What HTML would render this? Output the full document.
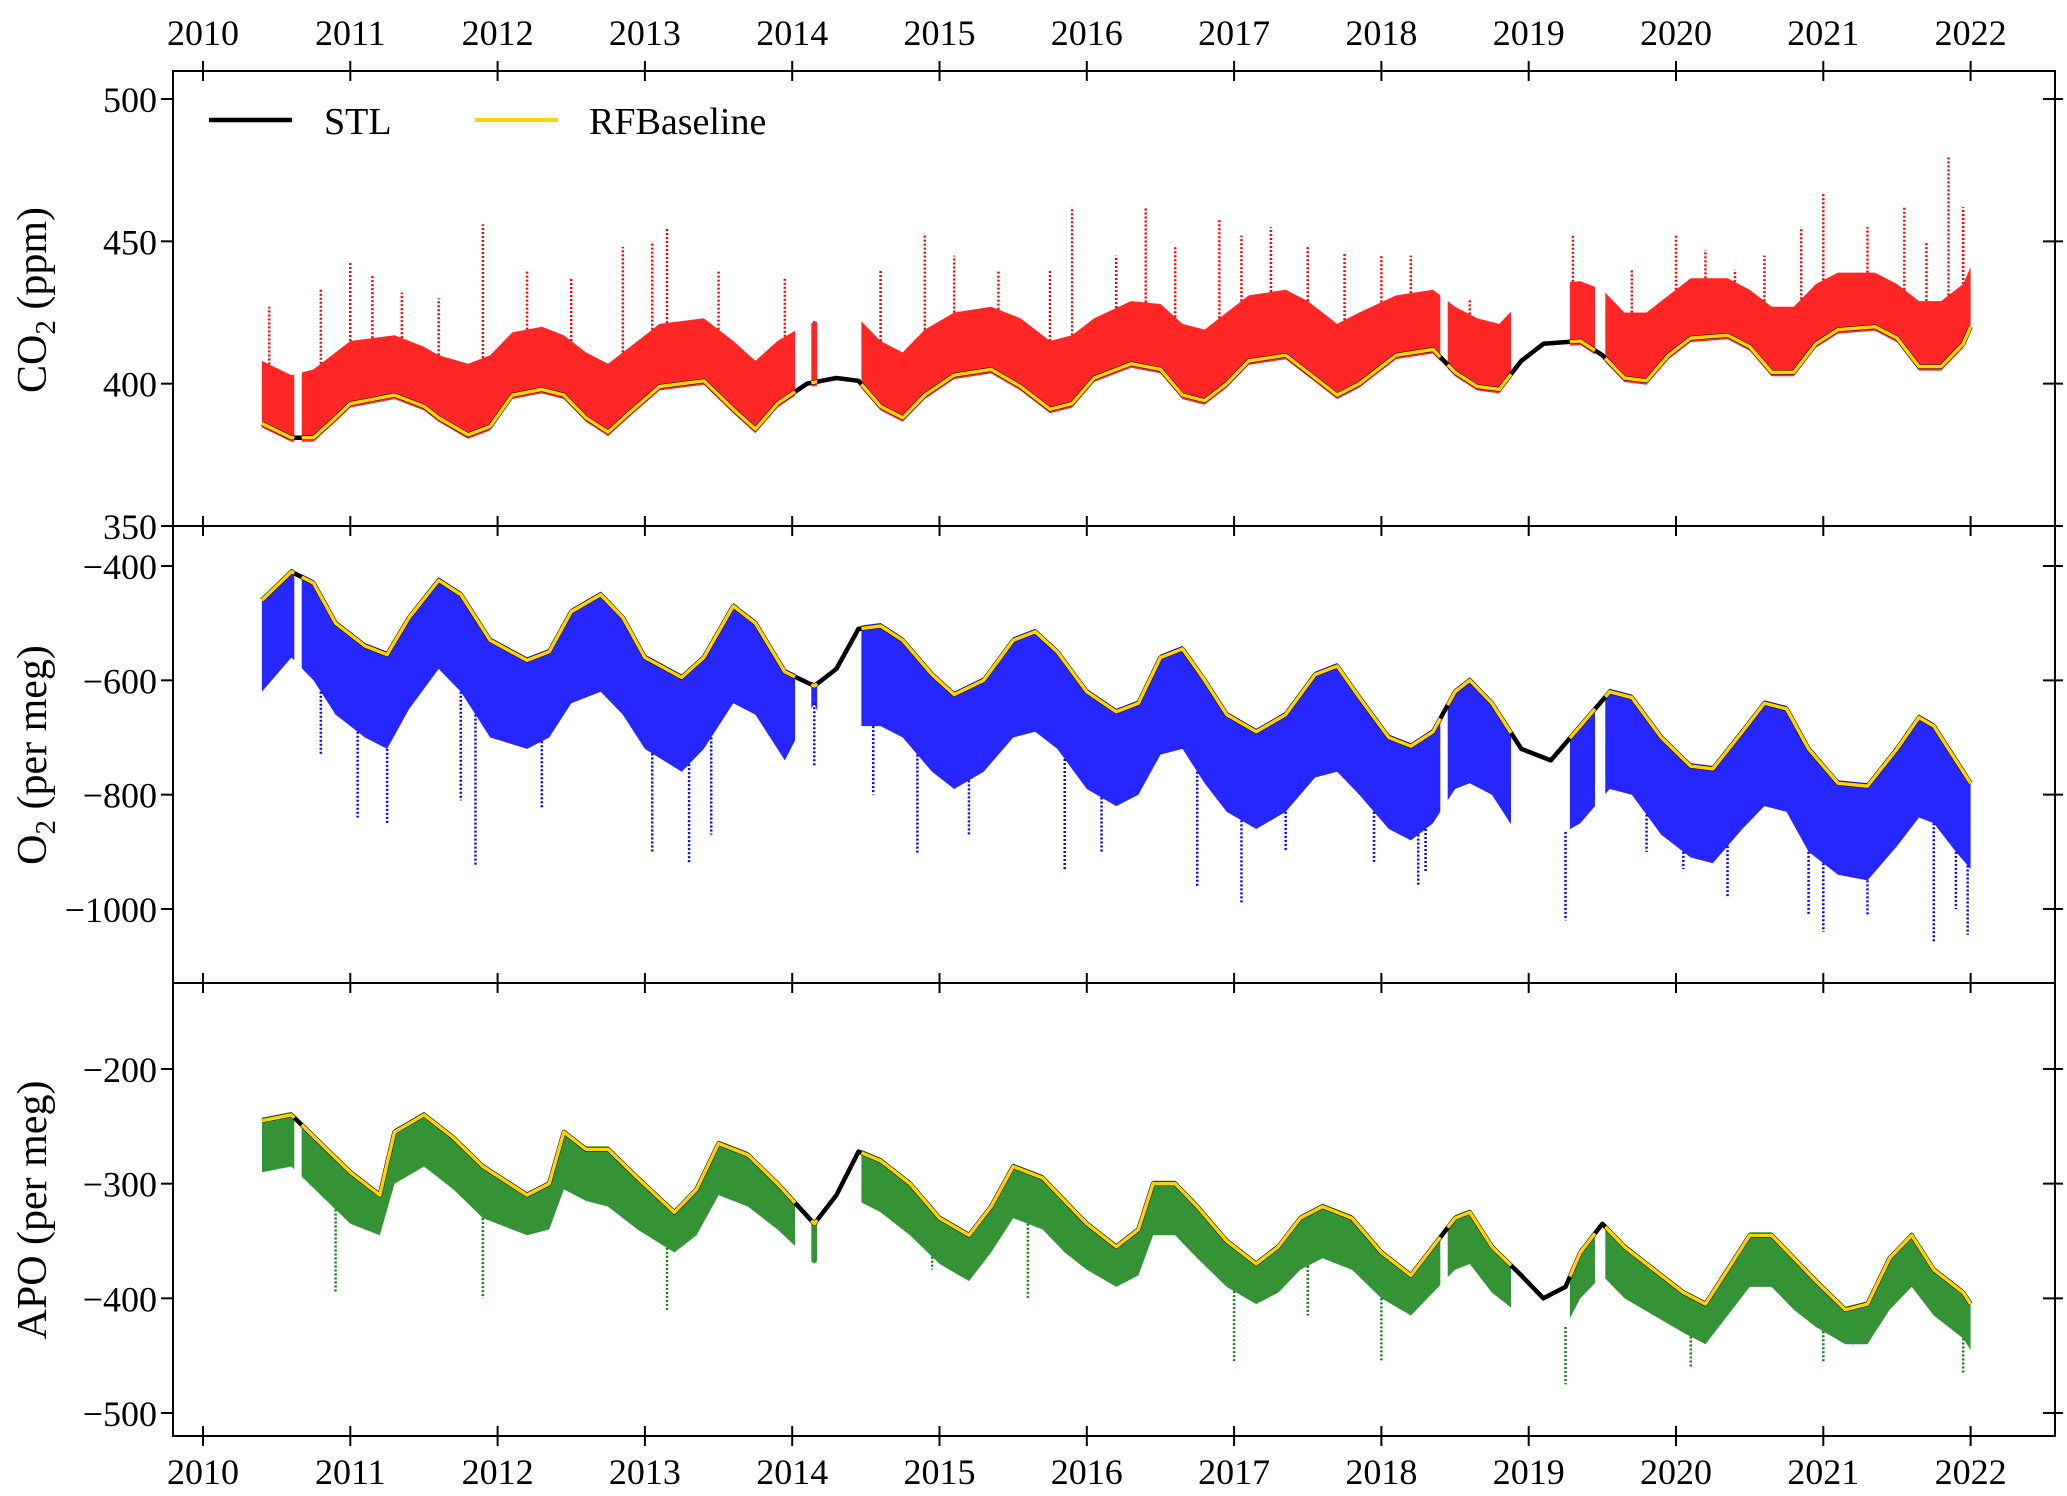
<!DOCTYPE html>
<html><head><meta charset="utf-8"><style>
html,body{margin:0;padding:0;background:#fff}
svg text{font-family:"Liberation Serif",serif;fill:#000}
</style></head><body>
<svg id="chart" width="2067" height="1491" viewBox="0 0 2067 1491" xmlns="http://www.w3.org/2000/svg"></svg>
<script>
// ---- data ----
const yearTicks = [2010,2011,2012,2013,2014,2015,2016,2017,2018,2019,2020,2021,2022];
const co2Ticks = [350,400,450,500];
const o2Ticks = [-1000,-800,-600,-400];
const apoTicks = [-500,-400,-300,-200];
const dataSegments = [[2010.4,2010.62],[2010.67,2014.02],[2014.13,2014.17],[2014.47,2018.4],[2018.45,2018.88],[2019.28,2019.45],[2019.52,2022.0]];

const co2T = [2010.4,2010.6,2010.75,2010.9,2011.0,2011.3,2011.5,2011.6,2011.8,2011.95,2012.1,2012.3,2012.45,2012.6,2012.75,2012.9,2013.1,2013.4,2013.6,2013.75,2013.9,2014.1,2014.3,2014.45,2014.6,2014.75,2014.9,2015.1,2015.35,2015.55,2015.75,2015.9,2016.05,2016.3,2016.5,2016.65,2016.8,2016.95,2017.1,2017.35,2017.5,2017.7,2017.85,2018.1,2018.35,2018.5,2018.65,2018.8,2018.95,2019.1,2019.35,2019.5,2019.65,2019.8,2019.95,2020.1,2020.35,2020.5,2020.65,2020.8,2020.95,2021.1,2021.35,2021.5,2021.65,2021.8,2021.95,2022.0];
const co2Base = [386,381,381,388,393,396,392,388,382,385,396,398,396,388,383,390,399,401,391,384,393,400,402,401,392,388,396,403,405,399,391,393,402,407,405,396,394,400,408,410,404,396,400,410,412,404,399,398,408,414,415,410,402,401,410,416,417,413,404,404,414,419,420,416,406,406,414,420];
const co2Hi = [408,403,405,411,415,417,413,410,407,410,418,420,417,411,407,413,421,423,415,408,415,421,423,423,415,411,419,425,427,423,415,417,423,429,428,421,419,425,431,433,429,421,425,431,433,427,423,421,429,435,436,433,425,425,431,437,437,433,427,427,435,439,439,435,429,429,435,441];
const co2SpikeT = [2010.45,2010.8,2011.0,2011.15,2011.35,2011.6,2011.9,2012.2,2012.5,2012.85,2013.05,2013.15,2013.5,2013.95,2014.15,2014.6,2014.9,2015.1,2015.4,2015.75,2015.9,2016.2,2016.4,2016.6,2016.9,2017.05,2017.25,2017.5,2017.75,2018.0,2018.2,2018.6,2019.3,2019.7,2020.0,2020.2,2020.4,2020.6,2020.85,2021.0,2021.3,2021.55,2021.7,2021.85,2021.95];
const co2SpikeV = [427,433,443,438,432,430,456,440,437,448,450,455,440,437,422,440,452,445,440,440,462,445,462,448,458,452,455,448,446,445,445,430,452,440,452,447,440,445,455,467,455,462,450,480,462];

const o2T = [2010.4,2010.6,2010.75,2010.9,2011.1,2011.25,2011.4,2011.6,2011.75,2011.95,2012.2,2012.35,2012.5,2012.7,2012.85,2013.0,2013.25,2013.4,2013.6,2013.75,2013.95,2014.15,2014.3,2014.45,2014.6,2014.75,2014.95,2015.1,2015.3,2015.5,2015.65,2015.8,2016.0,2016.2,2016.35,2016.5,2016.65,2016.8,2016.95,2017.15,2017.35,2017.55,2017.7,2017.85,2018.05,2018.2,2018.35,2018.5,2018.6,2018.75,2018.95,2019.15,2019.35,2019.55,2019.7,2019.9,2020.1,2020.25,2020.45,2020.6,2020.75,2020.9,2021.1,2021.3,2021.5,2021.65,2021.75,2021.9,2022.0];
const o2Base = [-460,-410,-430,-500,-540,-555,-490,-425,-450,-530,-565,-550,-480,-450,-490,-560,-595,-560,-470,-500,-585,-610,-580,-510,-505,-530,-590,-625,-600,-530,-515,-550,-620,-655,-640,-560,-545,-600,-660,-690,-660,-590,-575,-630,-700,-715,-690,-620,-600,-640,-720,-740,-680,-620,-630,-700,-750,-755,-690,-640,-650,-720,-780,-785,-720,-665,-680,-740,-780];
const o2Lo = [-620,-560,-600,-660,-700,-720,-650,-580,-620,-700,-720,-700,-640,-620,-660,-720,-760,-720,-640,-660,-740,-640,-740,-680,-680,-700,-760,-790,-760,-700,-690,-720,-790,-820,-800,-730,-720,-780,-830,-860,-830,-770,-760,-800,-860,-880,-850,-790,-780,-800,-880,-880,-850,-790,-800,-870,-910,-920,-860,-820,-830,-900,-940,-950,-890,-840,-850,-900,-930];
const o2SpikeT = [2010.8,2011.05,2011.25,2011.75,2011.85,2012.3,2013.05,2013.3,2013.45,2014.15,2014.55,2014.85,2015.2,2015.85,2016.1,2016.75,2017.05,2017.35,2017.95,2018.25,2018.3,2019.25,2019.8,2020.05,2020.35,2020.9,2021.0,2021.3,2021.75,2021.9,2021.98];
const o2SpikeV = [-730,-840,-850,-810,-925,-825,-900,-920,-870,-750,-800,-905,-870,-930,-900,-960,-990,-900,-920,-960,-935,-1020,-900,-930,-980,-1010,-1040,-1010,-1060,-1000,-1045];

const apoT = [2010.4,2010.6,2010.8,2011.0,2011.2,2011.3,2011.5,2011.7,2011.9,2012.2,2012.35,2012.45,2012.6,2012.75,2012.95,2013.2,2013.35,2013.5,2013.7,2013.9,2014.15,2014.3,2014.45,2014.6,2014.8,2015.0,2015.2,2015.35,2015.5,2015.7,2015.85,2016.0,2016.2,2016.35,2016.45,2016.6,2016.75,2016.95,2017.15,2017.3,2017.45,2017.6,2017.8,2018.0,2018.2,2018.35,2018.5,2018.6,2018.75,2018.95,2019.1,2019.25,2019.35,2019.5,2019.65,2019.85,2020.05,2020.2,2020.35,2020.5,2020.65,2020.8,2020.95,2021.15,2021.3,2021.45,2021.6,2021.75,2021.95,2022.0];
const apoBase = [-245,-240,-265,-290,-310,-255,-240,-260,-285,-310,-300,-255,-270,-270,-295,-325,-305,-265,-275,-300,-335,-310,-272,-280,-300,-330,-345,-320,-285,-295,-315,-335,-355,-340,-300,-300,-320,-350,-370,-355,-330,-320,-330,-360,-380,-355,-330,-325,-355,-380,-400,-390,-360,-335,-355,-375,-395,-405,-375,-345,-345,-365,-385,-410,-405,-365,-345,-375,-395,-405];
const apoLo = [-290,-285,-310,-335,-345,-300,-285,-305,-330,-345,-340,-305,-315,-320,-340,-360,-345,-310,-320,-340,-370,-350,-315,-325,-345,-370,-385,-360,-330,-340,-360,-375,-390,-380,-345,-345,-365,-390,-405,-395,-375,-365,-375,-400,-415,-395,-375,-370,-395,-415,-430,-425,-400,-380,-400,-415,-430,-440,-415,-390,-390,-410,-425,-440,-440,-410,-390,-415,-435,-445];
const apoSpikeT = [2010.9,2011.9,2013.15,2014.95,2015.6,2017.0,2017.5,2018.0,2019.25,2020.1,2021.0,2021.2,2021.95];
const apoSpikeV = [-395,-400,-410,-375,-400,-455,-415,-455,-475,-460,-455,-440,-465];

// ---- layout ----
const NS = "http://www.w3.org/2000/svg";
const svg = document.getElementById('chart');
const L = 173, R = 2055;
const xs = t => 203 + (t - 2010) * 147.3;
const panels = [
  {top:71, bot:526, v0:350, p0:526, v1:500, p1:99, ticks:co2Ticks, name:'co2'},
  {top:526, bot:983, v0:-1000, p0:909, v1:-400, p1:566, ticks:o2Ticks, name:'o2'},
  {top:983, bot:1436, v0:-500, p0:1413, v1:-200, p1:1069, ticks:apoTicks, name:'apo'}
];
panels.forEach(p => { p.y = v => p.p0 + (v - p.v0) * (p.p1 - p.p0) / (p.v1 - p.v0); });

function el(tag, attrs, parent) {
  const e = document.createElementNS(NS, tag);
  for (const k in attrs) e.setAttribute(k, attrs[k]);
  (parent || svg).appendChild(e);
  return e;
}
function interp(T, V, t) {
  if (t <= T[0]) return V[0];
  for (let i = 1; i < T.length; i++) if (t <= T[i]) { const f = (t - T[i-1]) / (T[i] - T[i-1]); return V[i-1] + f * (V[i] - V[i-1]); }
  return V[V.length - 1];
}
function segPts(T, V, a, b) {
  const ts = [a]; T.forEach(t => { if (t > a && t < b) ts.push(t); }); ts.push(b);
  return ts.map(t => [t, interp(T, V, t)]);
}
function band(p, T, lo, hi, loOff, hiOff, color, nm) {
  const g = el('g', {});
  
  
  dataSegments.forEach(([a, b]) => {
    if (a < T[0]) a = T[0];
    const up = segPts(T, hi, a, b).map(([t, v]) => xs(t).toFixed(1) + ',' + (p.y(v) + hiOff).toFixed(1));
    const dn = segPts(T, lo, a, b).reverse().map(([t, v]) => xs(t).toFixed(1) + ',' + (p.y(v) + loOff).toFixed(1));
    const poly = el('polygon', {points: up.concat(dn).join(' '), fill: color, 'fill-opacity': '0.85'}, g);
    
    
  });
  return g;
}
function spikes(p, T, base, st, sv, color, nm, hiArr) {
  st.forEach((t, i) => {
    const from = interp(T, hiArr, t);
    const ln = el('line', {x1: xs(t), x2: xs(t), y1: p.y(from), y2: p.y(sv[i]), stroke: color, 'stroke-width': 2.5, 'stroke-dasharray': '2 2'});
    
    
  });
}
function line(p, T, V, color, w, nm, segs) {
  const ranges = segs || [[T[0], T[T.length-1]]];
  ranges.forEach(([a, b]) => {
    if (a < T[0]) a = T[0];
    const pts = segPts(T, V, a, b).map(([t, v]) => xs(t).toFixed(1) + ',' + p.y(v).toFixed(1)).join(' ');
    const pl = el('polyline', {points: pts, fill: 'none', stroke: color, 'stroke-width': w, 'stroke-linejoin': 'round'});
    
    
  });
}

// ---- series ----
const P1 = panels[0], P2 = panels[1], P3 = panels[2];
band(P1, co2T, co2Base, co2Hi, 4, 0, '#ff0000', 'co2-scatter');
spikes(P1, co2T, co2Base, co2SpikeT, co2SpikeV, '#ff0000', 'co2', co2Hi);
line(P1, co2T, co2Base, '#000', 4.5, 'co2-stl-line');
line(P1, co2T, co2Base, '#ffd200', 3.5, 'co2-rfbaseline-line', dataSegments);

band(P2, o2T, o2Lo, o2Base, 0, -3, '#0000ff', 'o2-scatter');
spikes(P2, o2T, o2Base, o2SpikeT, o2SpikeV, '#0000ff', 'o2', o2Lo);
line(P2, o2T, o2Base, '#000', 4.5, 'o2-stl-line');
line(P2, o2T, o2Base, '#ffd200', 3.5, 'o2-rfbaseline-line', dataSegments);

band(P3, apoT, apoLo, apoBase, 0, -3, '#118011', 'apo-scatter');
spikes(P3, apoT, apoBase, apoSpikeT, apoSpikeV, '#118011', 'apo', apoLo);
line(P3, apoT, apoBase, '#000', 4.5, 'apo-stl-line');
line(P3, apoT, apoBase, '#ffd200', 3.5, 'apo-rfbaseline-line', dataSegments);

// ---- axes ----
const frame = el('rect', {x: L, y: 71, width: R - L, height: 1436 - 71, fill: 'none', stroke: '#000', 'stroke-width': 2});


[526, 983].forEach(yy => {
  const d = el('line', {x1: L, x2: R, y1: yy, y2: yy, stroke: '#000', 'stroke-width': 2});
  
  
});
[71, 526, 983, 1436].forEach(yy => {
  yearTicks.forEach(yr => {
    const tk = el('line', {x1: xs(yr), x2: xs(yr), y1: yy - 10, y2: yy + 10, stroke: '#000', 'stroke-width': 2});
    
    
  });
});
yearTicks.forEach(yr => {
  const a = el('text', {x: xs(yr), y: 45, 'font-size': 36, 'text-anchor': 'middle'});
  a.textContent = yr;
  
  
  const b = el('text', {x: xs(yr), y: 1484, 'font-size': 36, 'text-anchor': 'middle'});
  b.textContent = yr;
  
  
});
panels.forEach(p => {
  p.ticks.forEach(v => {
    const yy = p.y(v);
    const tl = el('line', {x1: L - 12, x2: L, y1: yy, y2: yy, stroke: '#000', 'stroke-width': 2});
    
    
    const tr = el('line', {x1: R - 12, x2: R + 8, y1: yy, y2: yy, stroke: '#000', 'stroke-width': 2});
    
    
    const lb = el('text', {x: L - 16, y: yy + 13, 'font-size': 36, 'text-anchor': 'end'});
    lb.textContent = v < 0 ? '\u2212' + Math.abs(v) : v;
    
    
  });
});
</script>
<div style="position:absolute;left:0;top:0;width:2067px;height:1491px;pointer-events:none">
<svg width="2067" height="1491" style="position:absolute;left:0;top:0">
  <g transform="translate(46,300) rotate(-90)">
    <text text-anchor="middle" font-size="42" style="font-family:'Liberation Serif',serif">CO<tspan font-size="29" dy="9">2</tspan><tspan dy="-9"> (ppm)</tspan></text>
  </g>
  <g transform="translate(46,755) rotate(-90)">
    <text text-anchor="middle" font-size="42" style="font-family:'Liberation Serif',serif">O<tspan font-size="29" dy="9">2</tspan><tspan dy="-9"> (per meg)</tspan></text>
  </g>
  <g transform="translate(46,1210) rotate(-90)">
    <text text-anchor="middle" font-size="42" style="font-family:'Liberation Serif',serif">APO (per meg)</text>
  </g>
  <g>
    <line x1="209" x2="292" y1="120" y2="120" stroke="#000" stroke-width="4.5"/>
    <text x="324" y="134" font-size="38" style="font-family:'Liberation Serif',serif">STL</text>
    <line x1="475" x2="558" y1="120" y2="120" stroke="#ffd200" stroke-width="4"/>
    <text x="589" y="134" font-size="38" style="font-family:'Liberation Serif',serif">RFBaseline</text>
  </g>
</svg>
</div>
</body></html>
